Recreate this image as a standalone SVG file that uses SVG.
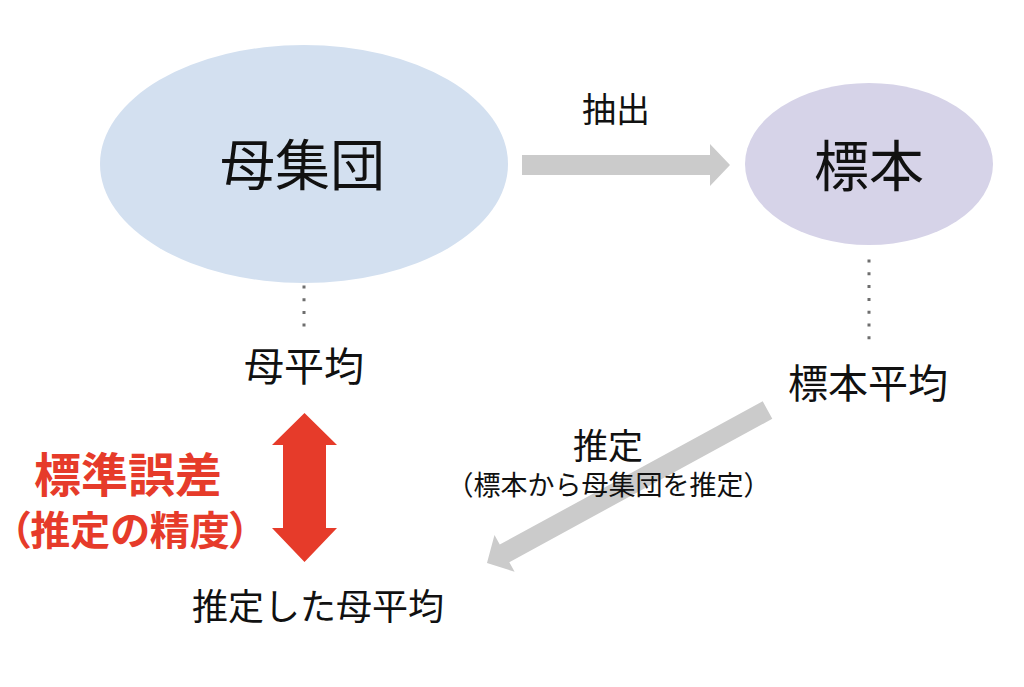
<svg xmlns="http://www.w3.org/2000/svg" width="1024" height="687" viewBox="0 0 1024 687">
<style>
text{font-family:"Noto Sans CJK JP","Noto Sans CJK SC",sans-serif;fill:#111;text-anchor:middle;dominant-baseline:central}
.red{fill:#e63b2a;font-weight:700}
.palt{font-feature-settings:"palt" 1}
.gray{fill:#cbcbcb}
.dots{stroke:#6e6e6e;stroke-width:3;fill:none}
</style>
<rect width="1024" height="687" fill="#ffffff"/>
<g id="population">
<ellipse cx="304" cy="164" rx="204" ry="119" fill="#d3e0f0"/>
<text x="302.5" y="161" font-size="55">母集団</text>
</g>
<g id="sample">
<ellipse cx="869" cy="164" rx="124" ry="81" fill="#d6d3e8"/>
<text x="869" y="162" font-size="55">標本</text>
</g>
<g id="population-mean">
<text x="304" y="364" font-size="40">母平均</text>
</g>
<g id="sample-mean">
<text x="868" y="381" font-size="40">標本平均</text>
</g>
<g id="estimated-mean">
<text x="318" y="604" font-size="36">推定した母平均</text>
</g>
<g id="standard-error">
<text class="red" x="128" y="471" font-size="47">標準誤差</text>
<text class="red palt" x="130" y="528" font-size="40">（推定の精度）</text>
</g>
<g id="connectors">
<g id="extract">
<polygon class="gray" points="522,155 710,155 710,144 730,165 710,186 710,175 522,175"/>
<text x="616" y="107" font-size="34">抽出</text>
</g>
<g id="estimate">
<polygon class="gray" transform="translate(767.5,410) rotate(151.4)" points="0,-10 299.5,-10 299.5,-21 319.5,0 299.5,21 299.5,10 0,10"/>
<text x="608" y="443" font-size="35">推定</text>
<text x="608.5" y="483" font-size="27">（標本から母集団を推定）</text>
</g>
<line class="dots" x1="304" y1="285.5" x2="304" y2="327" stroke-dasharray="3 9.7"/>
<line class="dots" x1="869" y1="259.5" x2="869" y2="340" stroke-dasharray="3 9.8"/>
<polygon id="error-arrow" fill="#e63b2a" points="304.5,413 337,445 326,445 326,528 337,528 304.5,562 272,528 283,528 283,445 272,445"/>
</g>
</svg>
